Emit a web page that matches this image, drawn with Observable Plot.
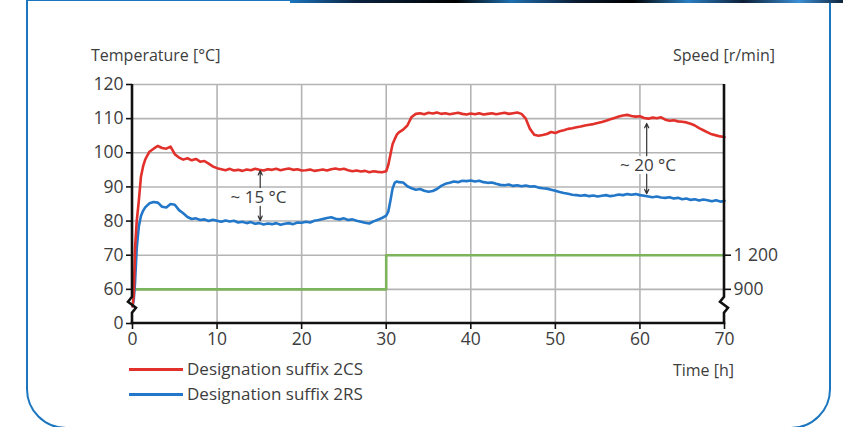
<!DOCTYPE html>
<html><head><meta charset="utf-8">
<script src="https://cdn.jsdelivr.net/npm/d3@7"></script>
<script src="https://cdn.jsdelivr.net/npm/@observablehq/plot@0.6"></script>
<style>
html,body{margin:0;padding:0;background:#fff;}
#wrap{position:relative;width:843px;height:427px;overflow:hidden;font-family:"Open Sans",sans-serif;color:#3d3d3d;background:#fff;}
#frame{position:absolute;left:26px;top:-1px;width:805px;height:430px;border:2.5px solid #1b75bf;border-radius:0 0 40px 40px;box-sizing:border-box;}
#topband{position:absolute;left:290px;top:0;width:553px;height:3px;background:linear-gradient(90deg,#1b75bf 0%,#0b2340 12%,#000 30%,#1f6fb0 40%,#0a1a30 52%,#000 62%,#2a7fc4 72%,#0d1f36 82%,#3b8fd6 92%,#10243c 100%);}
#chart{position:absolute;left:0;top:0;}
.lbl{position:absolute;font-size:16px;line-height:20px;white-space:nowrap;color:#3d3d3d;}
.legt{position:absolute;font-size:17px;line-height:24px;white-space:nowrap;color:#3d3d3d;}
.leg{position:absolute;height:2.5px;width:54px;left:129px;}
</style>
</head><body>
<div id="wrap">
  <div id="frame"></div>
  <div id="topband"></div>
  <div id="chart"></div>
  <div class="lbl" style="left:91px;top:45px;">Temperature [°C]</div>
  <div class="lbl" style="right:68px;top:45px;">Speed [r/min]</div>
  <div class="lbl" style="right:109px;top:360px;">Time [h]</div>
  <div class="leg" style="top:368px;background:#e2302a;"></div>
  <div class="legt" style="left:187px;top:357px;">Designation suffix 2CS</div>
  <div class="leg" style="top:393px;background:#2277c9;"></div>
  <div class="legt" style="left:187px;top:382px;">Designation suffix 2RS</div>
</div>
<script>
const time = [
  0, 0.15, 0.3, 0.5, 0.75, 1, 1.25, 1.5, 1.75, 2,
  2.5, 3, 3.5, 4, 4.5, 5, 5.5, 6, 6.5, 7,
  7.5, 8, 8.5, 9, 9.5, 10, 10.5, 11, 11.5, 12,
  12.5, 13, 13.5, 14, 14.5, 15, 15.5, 16, 16.5, 17,
  17.5, 18, 18.5, 19, 19.5, 20, 20.5, 21, 21.5, 22,
  22.5, 23, 23.5, 24, 24.5, 25, 25.5, 26, 26.5, 27,
  27.5, 28, 28.5, 29, 29.5, 30, 30.25, 30.5, 30.75, 31,
  31.25, 31.5, 32, 32.5, 33, 33.5, 34, 34.5, 35, 35.5,
  36, 36.5, 37, 37.5, 38, 38.5, 39, 39.5, 40, 40.5,
  41, 41.5, 42, 42.5, 43, 43.5, 44, 44.5, 45, 45.5,
  46, 46.5, 47, 47.5, 48, 48.5, 49, 49.5, 50, 50.5,
  51, 51.5, 52, 52.5, 53, 53.5, 54, 54.5, 55, 55.5,
  56, 56.5, 57, 57.5, 58, 58.5, 59, 59.5, 60, 60.5,
  61, 61.5, 62, 62.5, 63, 63.5, 64, 64.5, 65, 65.5,
  66, 66.5, 67, 67.5, 68, 68.5, 69, 69.5, 70
];
const temp2CS = [
  30, 50, 72, 80, 86, 93, 96, 98, 99.2, 100.3,
  101.2, 102, 101.4, 101.2, 101.8, 99.6, 98.6, 98, 98.4, 97.8,
  98.2, 97.4, 97.6, 96.8, 96, 95.5, 95.2, 94.9, 95.3, 94.8,
  95, 94.7, 95.1, 94.9, 95.3, 95, 94.8, 95.2, 95, 95.3,
  94.9, 95.2, 95.4, 95, 95.2, 94.8, 94.9, 95.1, 94.7, 94.9,
  95.1, 94.8, 95.2, 95.4, 95.1, 95.3, 94.9, 94.6, 94.8, 94.5,
  94.7, 94.3, 94.6, 94.4, 94.3, 94.6, 96.5, 99.5, 102.5, 104,
  105.3, 106, 106.8, 108, 110.5, 111.4, 111.6, 111.3, 111.7, 111.5,
  111.8, 111.4, 111.6, 111.3, 111.5, 111.7, 111.4, 111.2, 111.5, 111.3,
  111.6, 111.2, 111.4, 111.6, 111.3, 111.5, 111.7, 111.4, 111.6, 111.8,
  111.4, 110, 107, 105.3, 105, 105.2, 105.5, 106.1, 105.8, 106.3,
  106.6, 107, 107.2, 107.5, 107.7, 108, 108.2, 108.4, 108.7, 109,
  109.4, 109.8, 110.2, 110.6, 110.9, 111.1, 110.8, 110.6, 110.7, 110.2,
  110, 110.3, 110.1, 110.4, 109.7, 109.4, 109.5, 109.2, 109.1, 108.9,
  108.5, 108, 107.2, 106.6, 106, 105.4, 105.1, 104.8, 104.6
];
const temp2RS = [
  30, 42, 62, 72, 78.5, 81.5, 83, 84, 84.6, 85.2,
  85.6, 85.4, 84.2, 84, 85, 84.8, 83.2, 82.3, 81.2, 80.6,
  80.8, 80.3, 80.5, 80, 80.4, 80.1, 79.8, 80.2, 79.9, 80.1,
  79.6, 79.8, 79.4, 79.7, 79.2, 79.4, 79, 79.3, 79.1, 79.4,
  78.9, 79.2, 79.4, 79.1, 79.6, 79.5, 79.8, 79.6, 80.1, 80.3,
  80.6, 80.9, 81.1, 80.7, 80.5, 80.8, 80.3, 80.5, 80.1, 79.8,
  79.5, 79.3, 79.9, 80.4, 80.9, 81.6, 82.8, 86, 89.5, 91.2,
  91.6, 91.4, 91.3, 90.2, 89.6, 89.2, 89.4, 88.9, 88.6, 88.8,
  89.4, 90.3, 90.9, 91.2, 91.6, 91.4, 91.8, 91.7, 91.9, 91.6,
  91.8, 91.4, 91.2, 91.3, 90.9, 90.6, 90.5, 90.7, 90.3, 90.5,
  90.2, 90.4, 90.1, 90.2, 89.8, 89.6, 89.5, 89.2, 88.9, 88.5,
  88.2, 88, 87.7, 87.6, 87.4, 87.6, 87.3, 87.5, 87.2, 87.4,
  87.6, 87.3, 87.5, 87.8, 87.6, 87.9, 87.7, 87.9, 87.6, 87.4,
  87.2, 87, 87.2, 86.9, 86.8, 87, 86.6, 86.8, 86.4, 86.6,
  86.2, 86.4, 86, 86.3, 86.1, 85.8, 86.1, 85.7, 85.9
];
const speedTime = [0, 30, 70];
const speedValue = [900, 1200, 1200];
const xTicks = [0, 10, 20, 30, 40, 50, 60, 70];
const yTickLabels = [0, 60, 70, 80, 90, 100, 110, 120];
const speedTickLabels = [900, 1200];
const speedTickText = ["900", "1 200"];
const annotLabel = ["~ 15 °C", "~ 20 °C"];
const annotTime = [15.1, 60.8];
const annotTop = [94.8, 108.6];
const annotBottom = [80.2, 88];
const annotTextTime = [14.9, 60.96];
const annotTextTemp = [86.9, 96.3];
const breakTemp = 32;

// broken temperature axis: 0..60 compressed into one interval
const pos = v => v >= 60 ? (v - 50) / 10 : v / 60;
const speedToTemp = s => 60 + (s - 900) / 30;

const redRows = time.map((t, i) => ({t, y: pos(temp2CS[i])}));
const blueRows = time.map((t, i) => ({t, y: pos(temp2RS[i])}));
const speedRows = speedTime.map((t, i) => ({t, y: pos(speedToTemp(speedValue[i]))}));
const annRows = annotLabel.map((label, i) => ({
  label, t: annotTime[i], top: pos(annotTop[i]), bottom: pos(annotBottom[i]),
  tt: annotTextTime[i], ty: pos(annotTextTemp[i])
}));
const leftLabel = new Map(yTickLabels.map(v => [pos(v), String(v)]));
const rightPos = speedTickLabels.map(s => pos(speedToTemp(s)));
const rightLabel = new Map(rightPos.map((p, i) => [p, speedTickText[i]]));

function axesFrame(index, scales) {
  const sx = scales.x || (scales.scales && scales.scales.x);
  const sy = scales.y || (scales.scales && scales.scales.y);
  const x0 = sx(xTicks[0]), x1 = sx(xTicks[xTicks.length - 1]);
  const yTop = sy(pos(yTickLabels[yTickLabels.length - 1])), yBot = sy(pos(yTickLabels[0]));
  const yb = sy(pos(breakTemp));
  const g = d3.create("svg:g").attr("fill", "none").attr("stroke", "#111").attr("stroke-width", 2.6);
  const zig = x => `M${x},${yTop}V${yb - 8}L${x - 4},${yb - 3}L${x + 4},${yb + 3}L${x},${yb + 8}V${yBot}`;
  g.append("path").attr("d", zig(x0));
  g.append("path").attr("d", zig(x1));
  g.append("path").attr("d", `M${x0 - 1.3},${yBot}H${x1 + 1.3}`);
  return g.node();
}

const gridStyle = {stroke: "#b4b4b4", strokeOpacity: 1, strokeWidth: 1.6};
const axisStyle = {tickSize: 6, tickPadding: 3, stroke: "#111", strokeWidth: 1.6, fill: "#3d3d3d", label: null, fontSize: 17.5};
const plot = Plot.plot({
  width: 843,
  height: 427,
  marginLeft: 132,
  marginRight: 119,
  marginTop: 84,
  marginBottom: 104,
  style: {fontFamily: "Open Sans, sans-serif", fontSize: "17.5px", background: "transparent"},
  x: {domain: [0, 70]},
  y: {domain: [0, 7]},
  marks: [
    Plot.gridX(xTicks.slice(1, -1), gridStyle),
    Plot.gridY(yTickLabels.filter(v => v >= 60).map(pos), gridStyle),
    Plot.line(speedRows, {x: "t", y: "y", curve: "step-after", stroke: "#7db35a", strokeWidth: 2.6}),
    Plot.line(blueRows, {x: "t", y: "y", stroke: "#2277c9", strokeWidth: 2.6}),
    Plot.line(redRows, {x: "t", y: "y", stroke: "#e2302a", strokeWidth: 2.6}),
    Plot.arrow(annRows, {x1: "t", y1: "ty", x2: "t", y2: "top", stroke: "#333", strokeWidth: 1.2, headLength: 6, headAngle: 50}),
    Plot.arrow(annRows, {x1: "t", y1: "ty", x2: "t", y2: "bottom", stroke: "#333", strokeWidth: 1.2, headLength: 6, headAngle: 50}),
    Plot.text(annRows, {x: "tt", y: "ty", text: "label", fill: "#3d3d3d", stroke: "white", strokeWidth: 6, fontSize: 17}),
    axesFrame,
    Plot.axisY(yTickLabels.map(pos), {anchor: "left", tickFormat: p => leftLabel.get(p), ...axisStyle}),
    Plot.axisY(rightPos, {anchor: "right", tickFormat: p => rightLabel.get(p), ...axisStyle}),
    Plot.axisX(xTicks, {anchor: "bottom", ...axisStyle})
  ]
});
document.getElementById("chart").appendChild(plot);
</script>
</body></html>
